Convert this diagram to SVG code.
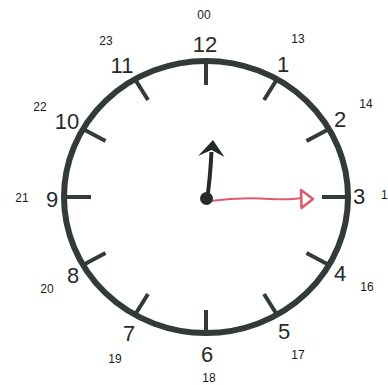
<svg xmlns="http://www.w3.org/2000/svg" width="388" height="385" viewBox="0 0 388 385">
<style>
.face{fill:none;stroke:#323a3a;stroke-width:6}
.tick{stroke:#323a3a;stroke-width:4;stroke-linecap:butt}
.num{font-family:"Liberation Sans",Arial,sans-serif;font-size:22px;fill:#262a2a;text-anchor:middle}
.h24{font-family:"Liberation Sans",Arial,sans-serif;font-size:12px;fill:#1a1a1a;text-anchor:middle}
</style>
<rect width="388" height="385" fill="#ffffff"/>
<g id="clock-face">
<ellipse class="face" cx="206" cy="197" rx="142" ry="136"/>
</g>
<g id="ticks">
<line class="tick" x1="206" y1="61" x2="206" y2="85"/>
<line class="tick" x1="277" y1="79.2" x2="264" y2="100"/>
<line class="tick" x1="329" y1="129" x2="306.5" y2="141"/>
<line class="tick" x1="348" y1="197" x2="322" y2="197"/>
<line class="tick" x1="329" y1="265" x2="306.5" y2="253"/>
<line class="tick" x1="277" y1="314.8" x2="264" y2="294"/>
<line class="tick" x1="206" y1="333" x2="206" y2="310"/>
<line class="tick" x1="135" y1="314.8" x2="148" y2="294"/>
<line class="tick" x1="83" y1="265" x2="105.5" y2="253"/>
<line class="tick" x1="64" y1="197" x2="91" y2="197"/>
<line class="tick" x1="83" y1="129" x2="105.5" y2="141"/>
<line class="tick" x1="135" y1="79.2" x2="148" y2="100"/>
</g>
<g id="numbers">
<text class="num" x="205" y="52">12</text>
<text class="num" x="283" y="72">1</text>
<text class="num" x="340" y="127">2</text>
<text class="num" x="359" y="204">3</text>
<text class="num" x="340" y="281">4</text>
<text class="num" x="284" y="339">5</text>
<text class="num" x="207" y="362">6</text>
<text class="num" x="129" y="341">7</text>
<text class="num" x="73" y="283">8</text>
<text class="num" x="52" y="207">9</text>
<text class="num" x="67" y="129">10</text>
<text class="num" x="122" y="73">11</text>
</g>
<g id="hours24">
<text class="h24" x="204" y="19">00</text>
<text class="h24" x="298" y="43">13</text>
<text class="h24" x="366" y="108">14</text>
<text class="h24" x="381" y="199" style="text-anchor:start">1</text>
<text class="h24" x="367" y="291">16</text>
<text class="h24" x="298" y="359">17</text>
<text class="h24" x="209" y="382">18</text>
<text class="h24" x="115" y="363">19</text>
<text class="h24" x="47" y="293">20</text>
<text class="h24" x="22" y="202">21</text>
<text class="h24" x="40" y="111">22</text>
<text class="h24" x="106" y="45">23</text>
</g>
<g id="hands">
<path d="M207 200 Q210 180 211.5 152" fill="none" stroke="#262a2a" stroke-width="4"/>
<path d="M213 140 L198 156 L211.5 150 L224.5 157 Z" fill="#262a2a"/>
<path d="M210 201 Q240 197 270 199 Q290 200 302 198" fill="none" stroke="#dc5a70" stroke-width="2"/>
<path d="M301 190 L313 199 L301.5 208 Z" fill="none" stroke="#dc5a70" stroke-width="2.5" stroke-linejoin="round"/>
<circle cx="206.5" cy="198.5" r="6.5" fill="#262a2a"/>
</g>
</svg>
